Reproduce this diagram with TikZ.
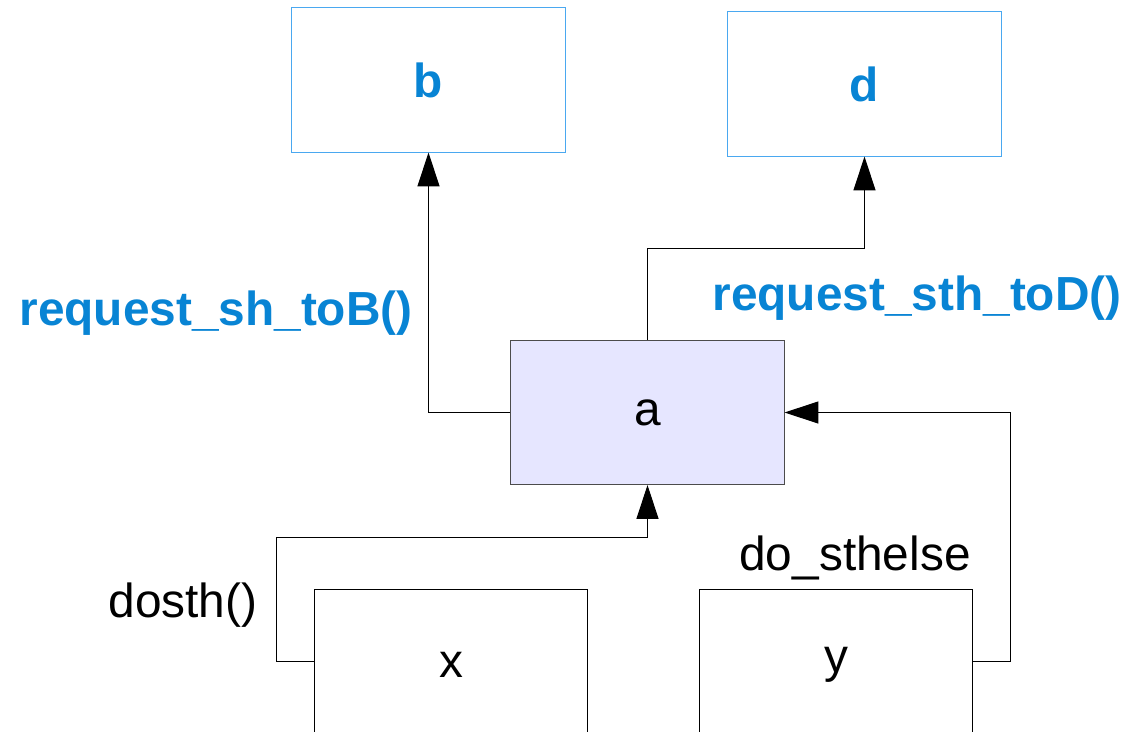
\documentclass[tikz,border=0pt]{standalone}
\usepackage{fontspec}
\setmainfont{Liberation Sans}
\usetikzlibrary{arrows.meta}

\definecolor{callblue}{RGB}{8,132,212}
\definecolor{edgeblue}{RGB}{74,168,240}
\definecolor{lavender}{RGB}{230,230,255}

\tikzset{
  unitbox/.style={draw, line width=0.7pt, minimum width=6.825cm, minimum height=3.6cm,
    font=\fontsize{34}{41}\selectfont},
  remote/.style={unitbox, draw=edgeblue, text=callblue, font=\fontsize{34}{41}\selectfont\bfseries},
  caller/.style={unitbox, minimum height=3.75cm},
  call/.style={line width=0.7pt, -{Triangle[length=24pt, width=15.6pt]}},
  calllabel/.style={font=\fontsize{34}{41}\selectfont\bfseries, text=callblue},
  plainlabel/.style={font=\fontsize{34}{41}\selectfont}
}

\begin{document}
\begin{tikzpicture}[x=0.025cm, y=-0.025cm]
    \useasboundingbox (0, 0) rectangle (1139, 731);
    \clip (0, 0) rectangle (1139, 731);

    \node[remote] (b) at (428.5, 80) {b};
    \node[remote] (d) at (864.5, 84) {d};
    \node[unitbox, fill=lavender, draw=black!70] (a) at (647.5, 412.5) {a};
    \node[caller] (x) at (451, 665) {x};
    \node[caller] (y) at (836, 665) {y};

    \coordinate (ad) at (647.5, 248);
    \coordinate (xa) at (276, 537);
    \coordinate (ya) at (1010, 412.5);

    \draw[call] (a.west) -| (b.south);
    \draw[call] (a.north) -- (ad) -| (d.south);
    \draw[call] ([yshift=2.8pt]x.west) -| (xa) -| (a.south);
    \draw[call] ([yshift=2.8pt]y.east) -| (ya) -- (a.east);

    \node[calllabel] (tob) at (216, 313) {request\_sh\_toB()};
    \node[calllabel] (tod) at (917, 298) {request\_sth\_toD()};
    \node[plainlabel] (dosth) at (183, 605) {dosth()};
    \node[plainlabel] (doelse) at (855, 558) {do\_sthelse};
\end{tikzpicture}
\end{document}
